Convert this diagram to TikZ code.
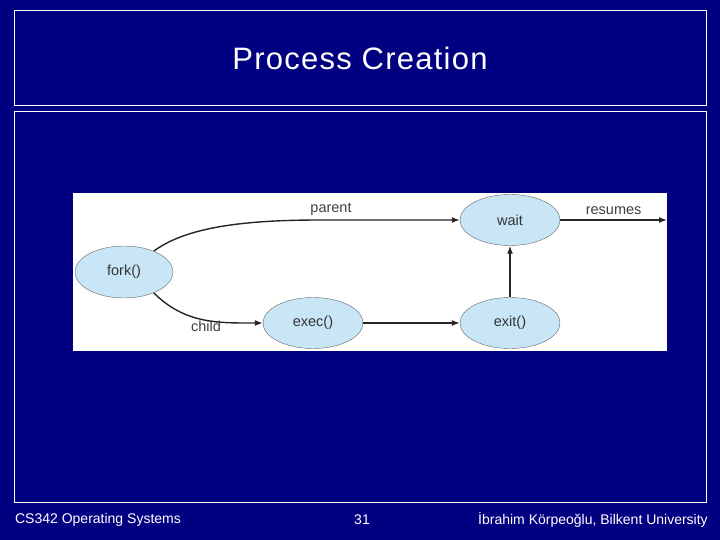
\documentclass[tikz,border=0pt]{standalone}
\usepackage{fontspec}
\setmainfont{Liberation Sans}
\usetikzlibrary{shapes.geometric,arrows.meta,positioning}
\definecolor{slideblue}{HTML}{000080}
\definecolor{procfill}{HTML}{C9E6F7}
\tikzset{
  proc/.style={ellipse, draw=black!60, fill=procfill, minimum width=100pt, minimum height=51pt, inner sep=0pt, font=\fontsize{14.5}{16}\selectfont, text=black!80},
  flow/.style={-{Latex[length=8pt,width=6pt]}, line width=1.4pt, black!85},
  lbl/.style={font=\fontsize{14.5}{16}\selectfont, text=black!75},
  foot/.style={text=white, font=\fontsize{14}{16}\selectfont}
}
\begin{document}
\begin{tikzpicture}[x=1pt,y=-1pt]
  \fill[slideblue] (0,0) rectangle (720,540);
  \useasboundingbox (0,0) rectangle (720,540);
  \draw[white, line width=0.6pt] (14,10) rectangle (706,105);
  \draw[white, line width=0.6pt] (14,111) rectangle (706,502);
  \node[text=white, font=\fontsize{31}{34}\selectfont\addfontfeatures{LetterSpace=4}] (title) at (360,58) {Process Creation};
  \fill[white] (73,193) rectangle (667,351);
  % processes
  \node[proc, minimum width=98pt, minimum height=52pt] (fork) at (124,272) {fork()};
  \node[proc] (wait) at (510,220) {wait};
  \node[proc] (exec) at (313,323) {exec()};
  \node[proc] (exit) at (510,323) {exit()};
  \coordinate (end) at (667,220);
  \draw[flow] (fork.35) .. controls (185,228) and (240,220) .. (320,220) -- (wait.west);
  \node[lbl] (parentlbl) at (331,209) {parent};
  \path[flow]
    (fork.-35) edge[out=-45, in=180] (exec.west)
    (exec) edge (exit)
    (exit) edge (wait)
    (wait) edge node[lbl, above=1pt] {resumes} (end);
  \node[lbl] (childlbl) at (206,326) {child};
  % footer
  \node[foot] (course) at (98,520) {CS342 Operating Systems};
  \node[foot] (page) at (362,520) {31};
  \node[foot] (author) at (593,520) {İbrahim Körpeoğlu, Bilkent University};
\end{tikzpicture}
\end{document}
